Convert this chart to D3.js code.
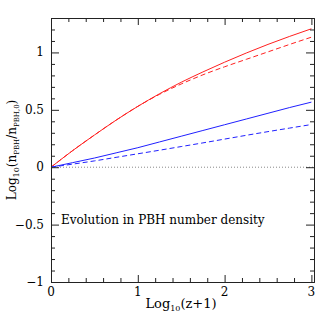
<!DOCTYPE html>
<html>
<head>
<meta charset="utf-8">
<script src="https://cdn.jsdelivr.net/npm/d3@7"></script>
<style>
body { margin: 0; background: #fff; }
text { font-family: "DejaVu Serif", serif; fill: #000; }
</style>
</head>
<body>
<div id="chart"></div>
<script>
// values
var xVals = [0, 0.25, 0.5, 0.75, 1, 1.25, 1.5, 1.75, 2, 2.25, 2.5, 2.75, 3];
var redSolid = [0, 0.145, 0.28, 0.41, 0.53, 0.64, 0.74, 0.83, 0.915, 0.995, 1.07, 1.14, 1.206];
var redDashed = [0, 0.145, 0.28, 0.41, 0.53, 0.635, 0.725, 0.805, 0.875, 0.94, 1.005, 1.07, 1.133];
var blueSolid = [0, 0.04, 0.08, 0.125, 0.17, 0.22, 0.27, 0.32, 0.37, 0.42, 0.47, 0.52, 0.567];
var blueDashed = [0, 0.027, 0.055, 0.086, 0.117, 0.148, 0.18, 0.212, 0.245, 0.278, 0.31, 0.341, 0.372];
var xTicks = [0, 1, 2, 3];
var yTicks = [-1, -0.5, 0, 0.5, 1];

var width = 332, height = 332;
// plot box (note: "top" is reserved on window, so use other names)
var pLeft = 51, pRight = 314, pTop = 18, pBottom = 282;

var svg = d3.select("#chart")
  .append("svg")
  .attr("width", width)
  .attr("height", height);

var x = d3.scaleLinear().domain([0, 3.03]).range([pLeft, pRight]);
var y = d3.scaleLinear().domain([-1, 1.3]).range([pBottom, pTop]);

// zero line, dotted
svg.append("line")
  .attr("x1", x(0)).attr("x2", pRight)
  .attr("y1", y(0)).attr("y2", y(0))
  .attr("stroke", "#888")
  .attr("stroke-width", 1)
  .attr("stroke-dasharray", "1,2");

var line = d3.line()
  .x(function(d) { return x(d[0]); })
  .y(function(d) { return y(d[1]); })
  .curve(d3.curveMonotoneX);

var series = [
  {vals: redSolid, color: "#ff2020", dash: null},
  {vals: redDashed, color: "#ff2020", dash: "5,3"},
  {vals: blueSolid, color: "#2020ff", dash: null},
  {vals: blueDashed, color: "#2020ff", dash: "5,3"}
];

series.forEach(function(s) {
  svg.append("path")
    .datum(xVals.map(function(v, i) { return [v, s.vals[i]]; }))
    .attr("d", line)
    .attr("fill", "none")
    .attr("stroke", s.color)
    .attr("stroke-width", 1)
    .attr("stroke-dasharray", s.dash);
});

// axes on all four sides, ticks pointing in
var xMinor = d3.range(0, 3.01, 0.2).filter(function(v) { return Math.abs(v - Math.round(v)) > 1e-6; });
var yMinor = d3.range(-1, 1.301, 0.1).filter(function(v) { return Math.abs(v * 2 - Math.round(v * 2)) > 1e-6; });

function addAxis(axis, tx, ty) {
  var g = svg.append("g").attr("transform", "translate(" + tx + "," + ty + ")").call(axis);
  g.selectAll("text").remove();
  g.select(".domain").attr("stroke", "#222");
  g.selectAll(".tick line").attr("stroke", "#222");
  return g;
}

addAxis(d3.axisBottom(x).tickValues(xTicks).tickSizeInner(-7).tickSizeOuter(0), 0, pBottom);
addAxis(d3.axisBottom(x).tickValues(xMinor).tickSizeInner(-4).tickSizeOuter(0), 0, pBottom);
addAxis(d3.axisTop(x).tickValues(xTicks).tickSizeInner(-7).tickSizeOuter(0), 0, pTop);
addAxis(d3.axisTop(x).tickValues(xMinor).tickSizeInner(-4).tickSizeOuter(0), 0, pTop);
addAxis(d3.axisLeft(y).tickValues(yTicks).tickSizeInner(-8).tickSizeOuter(0), pLeft, 0);
addAxis(d3.axisLeft(y).tickValues(yMinor).tickSizeInner(-4).tickSizeOuter(0), pLeft, 0);
addAxis(d3.axisRight(y).tickValues(yTicks).tickSizeInner(-8).tickSizeOuter(0), pRight, 0);
addAxis(d3.axisRight(y).tickValues(yMinor).tickSizeInner(-4).tickSizeOuter(0), pRight, 0);

// tick labels
svg.selectAll("xlab")
  .data(xTicks)
  .enter()
  .append("text")
  .attr("x", function(d) { return x(d); })
  .attr("y", 296)
  .attr("text-anchor", "middle")
  .style("font-size", "12px")
  .text(function(d) { return d; });

svg.selectAll("ylab")
  .data(yTicks)
  .enter()
  .append("text")
  .attr("x", 44)
  .attr("y", function(d) { return y(d) + 4; })
  .attr("text-anchor", "end")
  .style("font-size", "12px")
  .text(function(d) { return d < 0 ? "\u2212" + Math.abs(d) : d; });

// x title
var xt = svg.append("text")
  .attr("x", 181)
  .attr("y", 308)
  .attr("text-anchor", "middle")
  .style("font-size", "13px");
xt.append("tspan").text("Log");
xt.append("tspan").attr("dy", 3).style("font-size", "8px").text("10");
xt.append("tspan").attr("dy", -3).text("(z+1)");

// y title
var yt = svg.append("text")
  .attr("transform", "translate(16,150) rotate(-90)")
  .attr("text-anchor", "middle")
  .style("font-size", "12px");
yt.append("tspan").text("Log");
yt.append("tspan").attr("dy", 3).style("font-size", "8px").text("10");
yt.append("tspan").attr("dy", -3).text("(n");
yt.append("tspan").attr("dy", 3).style("font-size", "7px").text("PBH");
yt.append("tspan").attr("dy", -3).text("/n");
yt.append("tspan").attr("dy", 3).style("font-size", "7px").text("PBH,0");
yt.append("tspan").attr("dy", -3).text(")");

// annotation
svg.append("text")
  .attr("x", 61)
  .attr("y", 224)
  .style("font-size", "12px")
  .text("Evolution in PBH number density");
</script>
</body>
</html>
